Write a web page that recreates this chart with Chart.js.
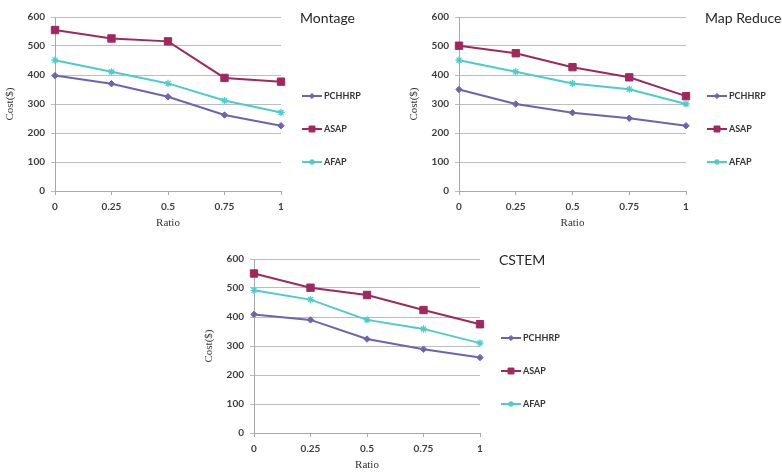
<!DOCTYPE html>
<html>
<head>
<meta charset="utf-8">
<script src="https://cdn.jsdelivr.net/npm/chart.js@4/dist/chart.umd.min.js"></script>
<style>
  html, body { margin: 0; padding: 0; background: #ffffff; }
  body { width: 782px; height: 473px; position: relative; overflow: hidden; }
  canvas { position: absolute; }
</style>
</head>
<body>
<canvas id="montage"></canvas>
<canvas id="mapreduce"></canvas>
<canvas id="cstem"></canvas>
<script>
// Shared axis categories and series names
const ratioLabels = ['0', '0.25', '0.5', '0.75', '1'];
const seriesNames = ['PCHHRP', 'ASAP', 'AFAP'];
const costTicks = [0, 100, 200, 300, 400, 500, 600];

// Montage workflow cost ($)
const montagePCHHRP = [398, 370, 325, 262, 225];
const montageASAP   = [555, 526, 516, 390, 377];
const montageAFAP   = [451, 411, 371, 312, 271];

// Map Reduce workflow cost ($)
const mapReducePCHHRP = [350, 300, 270, 251, 225];
const mapReduceASAP   = [501, 475, 427, 392, 327];
const mapReduceAFAP   = [451, 411, 371, 351, 300];

// CSTEM workflow cost ($)
const cstemPCHHRP = [409, 390, 324, 289, 260];
const cstemASAP   = [550, 501, 476, 424, 375];
const cstemAFAP   = [492, 460, 390, 359, 310];

// Series look (colour, marker)
const seriesStyle = [
  { color: '#6e64ae', marker: 'rectRot', radius: 3.2, legendRadius: 2.6, bw: 1 },
  { color: '#a1285e', marker: 'rect',    radius: 5.2, legendRadius: 4.2, bw: 1 },
  { color: '#4ccccc', marker: 'star',    radius: 3.6, legendRadius: 3.0, bw: 1.3 }
];

const TICK_FONT = { family: 'Lato, "Open Sans", sans-serif', size: 10, weight: 'bold' };
const TICK_COLOR = '#3c3c3c';
const AXIS_TITLE_FONT = { family: '"Liberation Serif", "DejaVu Serif", serif', size: 11 };

// Draws the panel heading and the side legend to the right of the plot
const sidePanelPlugin = {
  id: 'sidePanel',
  afterDraw(chart, args, opts) {
    const ctx = chart.ctx;
    const area = chart.chartArea;
    ctx.save();
    ctx.fillStyle = '#262626';
    ctx.font = '14px Lato, "Open Sans", sans-serif';
    ctx.textAlign = 'left';
    ctx.textBaseline = 'middle';
    ctx.fillText(opts.heading, area.right + 19, area.top + 1);

    const rowOffsets = [79, 112, 145];
    chart.data.datasets.forEach((ds, i) => {
      const st = seriesStyle[i];
      const y = area.top + rowOffsets[i];
      const x0 = area.right + 21;
      const x1 = area.right + 41;
      ctx.strokeStyle = st.color;
      ctx.lineWidth = 2;
      ctx.beginPath();
      ctx.moveTo(x0, y);
      ctx.lineTo(x1, y);
      ctx.stroke();
      ctx.fillStyle = st.color;
      ctx.strokeStyle = st.color;
      ctx.lineWidth = st.bw;
      Chart.helpers.drawPoint(ctx, {
        pointStyle: st.marker, radius: st.legendRadius, rotation: 0, borderWidth: st.bw
      }, (x0 + x1) / 2, y);
      ctx.fillStyle = '#333333';
      ctx.font = 'bold 9px Lato, "Open Sans", sans-serif';
      ctx.textBaseline = 'middle';
      ctx.fillText(ds.label, x1 + 2, y + 0.5);
    });
    ctx.restore();
  }
};

function buildChart(id, heading, values, box) {
  const canvas = document.getElementById(id);
  canvas.width = box.w;
  canvas.height = box.h;
  canvas.style.left = box.x + 'px';
  canvas.style.top = box.y + 'px';
  canvas.style.width = box.w + 'px';
  canvas.style.height = box.h + 'px';

  const datasets = values.map((data, i) => {
    const st = seriesStyle[i];
    return {
      label: seriesNames[i],
      data: data,
      borderColor: st.color,
      backgroundColor: st.color,
      borderWidth: 2,
      pointStyle: st.marker,
      pointRadius: st.radius,
      pointBackgroundColor: st.color,
      pointBorderColor: st.color,
      pointBorderWidth: st.bw,
      tension: 0,
      fill: false
    };
  });

  return new Chart(canvas, {
    type: 'line',
    data: { labels: ratioLabels, datasets: datasets },
    plugins: [sidePanelPlugin],
    options: {
      responsive: false,
      animation: false,
      devicePixelRatio: 1,
      layout: { padding: { top: 17, right: box.rightPad, bottom: 0, left: 0 } },
      plugins: {
        legend: { display: false },
        title: { display: false },
        tooltip: { enabled: false },
        sidePanel: { heading: heading }
      },
      scales: {
        x: {
          type: 'category',
          offset: false,
          grid: { drawOnChartArea: false, drawTicks: true, tickLength: 4, color: '#a8a8a8' },
          border: { color: '#a8a8a8', width: 1 },
          ticks: { font: TICK_FONT, color: TICK_COLOR, padding: 6, maxRotation: 0, autoSkip: false },
          title: { display: true, text: 'Ratio', font: AXIS_TITLE_FONT, color: '#333333',
                   padding: { top: 0, bottom: 5 } },
          afterFit(scale) { scale.height = 44; }
        },
        y: {
          min: costTicks[0],
          max: costTicks[costTicks.length - 1],
          afterBuildTicks(scale) { scale.ticks = costTicks.map(v => ({ value: v })); },
          grid: { color: '#bdbdbd', lineWidth: 1, tickLength: 4 },
          border: { color: '#a8a8a8', width: 1 },
          ticks: { font: TICK_FONT, color: TICK_COLOR, padding: 6 },
          title: { display: true, text: 'Cost($)', font: AXIS_TITLE_FONT, color: '#333333',
                   padding: { top: 4, bottom: 0 } },
          afterFit(scale) { scale.width = 55; }
        }
      }
    }
  });
}

buildChart('montage', 'Montage',
  [montagePCHHRP, montageASAP, montageAFAP],
  { x: 0, y: 0, w: 390, h: 235, rightPad: 109 });

buildChart('mapreduce', 'Map Reduce',
  [mapReducePCHHRP, mapReduceASAP, mapReduceAFAP],
  { x: 404, y: 0, w: 378, h: 235, rightPad: 96 });

buildChart('cstem', 'CSTEM',
  [cstemPCHHRP, cstemASAP, cstemAFAP],
  { x: 199, y: 242, w: 390, h: 235, rightPad: 109 });
</script>
</body>
</html>
